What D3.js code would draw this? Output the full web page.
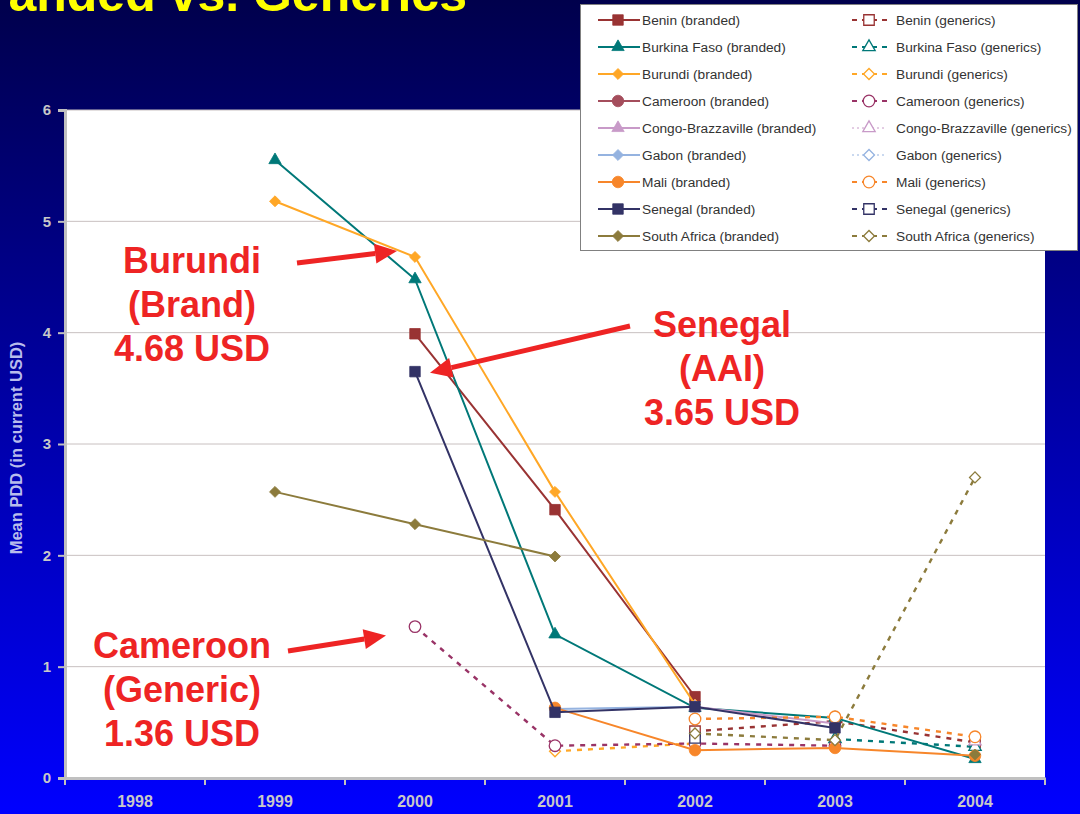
<!DOCTYPE html>
<html>
<head>
<meta charset="utf-8">
<script src="https://cdn.jsdelivr.net/npm/d3@7"></script>
<style>
  html, body { margin: 0; padding: 0; background: #000070; }
  svg { display: block; font-family: "Liberation Sans", Arial, sans-serif; }
</style>
</head>
<body>
<svg id="chart" width="1080" height="814"></svg>
<script>
// ---------- data ----------
const YEARS = ['1998', '1999', '2000', '2001', '2002', '2003', '2004'];
const Y_TICKS = [0, 1, 2, 3, 4, 5, 6];
const COUNTRIES = ['Benin', 'Burkina Faso', 'Burundi', 'Cameroon', 'Congo-Brazzaville',
                   'Gabon', 'Mali', 'Senegal', 'South Africa'];

// mean PDD per year (null = no value), one row per country, same order as COUNTRIES
const brandedValues = [
  [null, null, 3.99, 2.41, 0.73, null, null],   // Benin
  [null, 5.55, 4.48, 1.29, 0.63, 0.54, 0.17],   // Burkina Faso
  [null, 5.18, 4.68, 2.57, 0.66, null, null],   // Burundi
  [null, null, null, null, null, null, null],   // Cameroon
  [null, null, null, null, 0.64, 0.49, null],   // Congo-Brazzaville
  [null, null, null, 0.62, 0.64, null, null],   // Gabon
  [null, null, null, 0.63, 0.25, 0.27, 0.20],   // Mali
  [null, null, 3.65, 0.59, 0.64, 0.45, null],   // Senegal
  [null, 2.57, 2.28, 1.99, null, null, 0.21]    // South Africa
];
const genericValues = [
  [null, null, null, null, 0.42, 0.51, 0.32],   // Benin
  [null, null, null, null, null, 0.35, 0.28],   // Burkina Faso
  [null, null, null, 0.24, 0.31, null, null],   // Burundi
  [null, null, 1.36, 0.29, 0.31, 0.29, null],   // Cameroon
  [null, null, null, null, null, null, 0.33],   // Congo-Brazzaville
  [null, null, null, null, null, null, null],   // Gabon
  [null, null, null, null, 0.53, 0.55, 0.37],   // Mali
  [null, null, null, null, 0.36, null, null],   // Senegal
  [null, null, null, null, 0.40, 0.34, 2.70]    // South Africa
];

// callouts: text lines + the point they point at
const CALLOUTS = [
  { lines: ['Burundi', '(Brand)', '4.68 USD'], year: '2000', value: 4.68 },
  { lines: ['Senegal', '(AAI)', '3.65 USD'], year: '2000', value: 3.65 },
  { lines: ['Cameroon', '(Generic)', '1.36 USD'], year: '2000', value: 1.36 }
];

// ---------- styles ----------
const BRAND_COLORS   = ['#993333', '#007878', '#ffa726', '#a44d5c', '#c89ac8', '#95b3e0', '#f7862a', '#333366', '#8c7b3c'];
const GENERIC_COLORS = ['#993333', '#007878', '#ffa726', '#993366', '#c89ac8', '#95b3e0', '#f7862a', '#333366', '#8c7b3c'];
const SHAPES = ['square', 'triangle', 'diamond', 'circle', 'triangle', 'diamond', 'circle', 'square', 'diamond'];
const DOTTED = ['Congo-Brazzaville', 'Gabon'];
const CALLOUT_STYLE = [
  { cx: 192, top: 273, from: [297, 263], tip: [-18, -6] },
  { cx: 722, top: 337, from: [630, 326], tip: [15, 1] },
  { cx: 182, top: 658, from: [288, 651], tip: [-29, 9] }
];

const W = 1080, H = 814;
const M = { left: 65, right: 1045, top: 110, bottom: 778 };

const svg = d3.select('#chart');
const defs = svg.append('defs');

// background gradient
const bg = defs.append('linearGradient').attr('id', 'bg')
  .attr('x1', 0).attr('y1', 0).attr('x2', 0).attr('y2', 1);
bg.append('stop').attr('offset', '0%').attr('stop-color', '#00004c');
bg.append('stop').attr('offset', '100%').attr('stop-color', '#0000ff');
svg.append('rect').attr('width', W).attr('height', H).attr('fill', 'url(#bg)');

// title (cut off at the top, like the slide)
svg.append('text')
  .attr('x', 467).attr('y', 11)
  .attr('text-anchor', 'end')
  .attr('fill', '#ffff00')
  .style('font-size', '50px').style('font-weight', 'bold')
  .text('Branded vs. Generics');

// ---------- scales ----------
const x = d3.scaleBand().domain(YEARS).range([M.left, M.right]).padding(0);
const y = d3.scaleLinear().domain([0, 6]).range([M.bottom, M.top]);
const cx = yr => x(yr) + x.bandwidth() / 2;

// plot area
svg.append('rect')
  .attr('x', M.left).attr('y', M.top)
  .attr('width', M.right - M.left).attr('height', M.bottom - M.top)
  .attr('fill', '#ffffff');

// gridlines
svg.append('g').selectAll('line')
  .data(Y_TICKS.filter(t => t > 0))
  .enter().append('line')
  .attr('x1', M.left).attr('x2', M.right)
  .attr('y1', d => y(d)).attr('y2', d => y(d))
  .attr('stroke', '#c8c0c0').attr('stroke-width', 1);

// y axis
const yAxis = svg.append('g')
  .attr('transform', `translate(${M.left},0)`)
  .call(d3.axisLeft(y).tickValues(Y_TICKS).tickSize(7).tickPadding(7).tickFormat(d3.format('d')));
yAxis.select('.domain').attr('stroke', '#c0c0c0').attr('stroke-width', 3);
yAxis.selectAll('.tick line').attr('stroke', '#c0c0c0').attr('stroke-width', 2);
yAxis.selectAll('.tick text')
  .attr('fill', '#c8c8c8').style('font-size', '15px').style('font-weight', 'bold');

// x axis
const xAxis = svg.append('g')
  .attr('transform', `translate(0,${M.bottom})`)
  .call(d3.axisBottom(x).tickSize(0).tickPadding(18));
xAxis.select('.domain').attr('stroke', '#c0c0c0').attr('stroke-width', 3);
xAxis.selectAll('.tick text')
  .attr('fill', '#c8c8c8').style('font-size', '16px').style('font-weight', 'bold');
// tick marks between categories
xAxis.selectAll('line.bound')
  .data(YEARS.map(v => x(v)).concat([x.range()[1]]))
  .enter().append('line').attr('class', 'bound')
  .attr('x1', d => d).attr('x2', d => d)
  .attr('y1', 0).attr('y2', 7)
  .attr('stroke', '#c0c0c0').attr('stroke-width', 2);

// y title
svg.append('text')
  .attr('transform', `translate(22,${(M.top + M.bottom) / 2 + 4}) rotate(-90)`)
  .attr('text-anchor', 'middle')
  .attr('fill', '#b8bcec')
  .style('font-size', '16.5px').style('font-weight', 'bold')
  .text('Mean PDD (in current USD)');

// ---------- markers ----------
const SYM = {
  square: d3.symbol(d3.symbolSquare, 110)(),
  triangle: d3.symbol(d3.symbolTriangle, 66)(),
  diamond: d3.symbol(d3.symbolSquare, 60)(),
  circle: d3.symbol(d3.symbolCircle, 105)()
};
function drawMarker(g, shape, px, py, color, hollow) {
  g.append('path')
    .attr('d', SYM[shape])
    .attr('transform', `translate(${px},${py})` + (shape === 'diamond' ? ' rotate(45)' : ''))
    .attr('fill', hollow ? '#ffffff' : color)
    .attr('stroke', color)
    .attr('stroke-width', hollow ? 1.3 : 0.8);
}

// ---------- series ----------
const series = COUNTRIES.flatMap((c, i) => [
  { name: c + ' (branded)', kind: 'branded', color: BRAND_COLORS[i], shape: SHAPES[i],
    values: brandedValues[i], dotted: false },
  { name: c + ' (generics)', kind: 'generics', color: GENERIC_COLORS[i], shape: SHAPES[i],
    values: genericValues[i], dotted: DOTTED.includes(c) }
]);

const line = d3.line()
  .defined(d => d.v !== null)
  .x(d => cx(d.year))
  .y(d => y(d.v));

const plot = svg.append('g');
series.forEach(s => {
  const pts = YEARS.map((yr, j) => ({ year: yr, v: s.values[j] }));
  const g = plot.append('g');
  g.append('path')
    .attr('d', line(pts))
    .attr('fill', 'none')
    .attr('stroke', s.color)
    .attr('stroke-width', s.kind === 'branded' ? 2 : (s.dotted ? 1.2 : 2.4))
    .attr('stroke-dasharray', s.kind === 'branded' ? null : (s.dotted ? '2,3' : '5,6'));
  pts.filter(p => p.v !== null).forEach(p =>
    drawMarker(g, s.shape, cx(p.year), y(p.v), s.color, s.kind === 'generics'));
});

// ---------- callouts ----------
const RED = '#ee2424';
CALLOUTS.forEach((c, i) => {
  const st = CALLOUT_STYLE[i];
  const t = svg.append('text')
    .attr('text-anchor', 'middle')
    .attr('fill', RED)
    .style('font-size', '36px').style('font-weight', 'bold');
  c.lines.forEach((ln, k) => {
    t.append('tspan').attr('x', st.cx).attr('y', st.top + k * 44).text(ln);
  });
  const tx = cx(c.year) + st.tip[0], ty = y(c.value) + st.tip[1];
  const [fx, fy] = st.from;
  const ang = Math.atan2(ty - fy, tx - fx);
  const L = 22, HW = 10;
  const bx = tx - L * Math.cos(ang), by = ty - L * Math.sin(ang);
  svg.append('line')
    .attr('x1', fx).attr('y1', fy).attr('x2', bx).attr('y2', by)
    .attr('stroke', RED).attr('stroke-width', 5);
  svg.append('path')
    .attr('d', `M${tx},${ty}L${bx + HW * Math.sin(ang)},${by - HW * Math.cos(ang)}` +
               `L${bx - HW * Math.sin(ang)},${by + HW * Math.cos(ang)}Z`)
    .attr('fill', RED);
});

// ---------- legend ----------
const legend = svg.append('g');
legend.append('rect')
  .attr('x', 580.5).attr('y', 4.5).attr('width', 497).attr('height', 246)
  .attr('fill', '#ffffff').attr('stroke', '#808080').attr('stroke-width', 1);

const rowY = i => 20 + i * 27;
series.forEach((s, k) => {
  const row = Math.floor(k / 2);
  const col = k % 2;
  const g = legend.append('g').attr('transform', `translate(0,${rowY(row)})`);
  if (col === 0) {
    g.append('line').attr('x1', 598).attr('x2', 640).attr('y1', 0).attr('y2', 0)
      .attr('stroke', s.color).attr('stroke-width', 2);
    drawMarker(g, s.shape, 618, 0, s.color, false);
    g.append('text').attr('x', 642).attr('y', 5).attr('fill', '#333333')
      .style('font-size', '13.7px').text(s.name);
  } else {
    g.append('line').attr('x1', 852).attr('x2', 887).attr('y1', 0).attr('y2', 0)
      .attr('stroke', s.color).attr('stroke-width', s.dotted ? 1 : 2)
      .attr('stroke-dasharray', s.dotted ? '2,3' : '5,5');
    drawMarker(g, s.shape, 869, 0, s.color, true);
    g.append('text').attr('x', 896).attr('y', 5).attr('fill', '#333333')
      .style('font-size', '13.7px').text(s.name);
  }
});
</script>
</body>
</html>
